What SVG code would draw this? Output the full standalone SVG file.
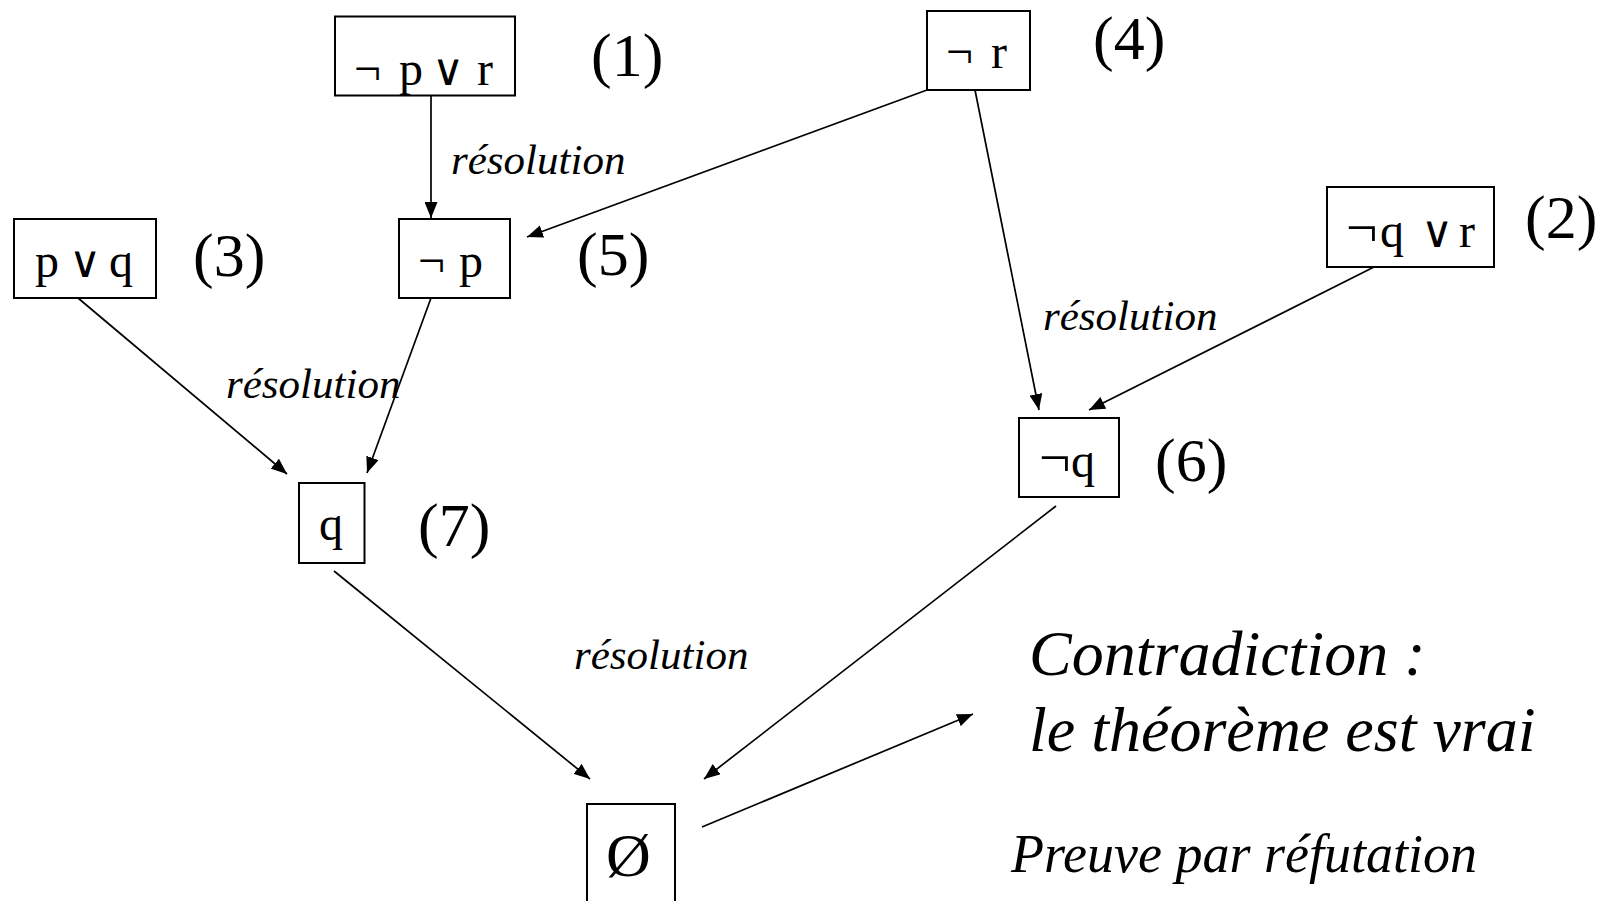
<svg xmlns="http://www.w3.org/2000/svg" width="1610" height="901" viewBox="0 0 1610 901">
<style>
  .box { fill: #fff; stroke: #000; stroke-width: 2; }
  .t { font-family: "Liberation Serif", "DejaVu Serif", serif; font-size: 48px; fill: #000; }
  .num { font-family: "Liberation Serif", "DejaVu Serif", serif; font-size: 62px; fill: #000; }
  .it { font-family: "Liberation Serif", "Times New Roman", serif; font-style: italic; fill: #000; }
  .res { font-size: 43px; }
  .big { font-size: 64px; }
  .pr { font-size: 54px; }
  .or { font-family: "DejaVu Sans", sans-serif; font-weight: 200; font-size: 44px; }
  .neg { font-size: 56px; }
  .edge { stroke: #000; stroke-width: 1.7; fill: none; marker-end: url(#ah); }
</style>
<defs>
  <marker id="ah" markerUnits="userSpaceOnUse" markerWidth="17" markerHeight="13" refX="16" refY="6.5" orient="auto">
    <path d="M0,0 L16,6.5 L0,13 z" fill="#000"/>
  </marker>
</defs>

<g id="edges">
  <line class="edge" x1="431" y1="90" x2="431" y2="218"/>
  <line class="edge" x1="927" y1="90" x2="527" y2="237"/>
  <line class="edge" x1="975" y1="90" x2="1039" y2="410"/>
  <line class="edge" x1="1374" y1="267" x2="1089" y2="410"/>
  <line class="edge" x1="78" y1="298" x2="287" y2="474"/>
  <line class="edge" x1="431" y1="298" x2="367" y2="473"/>
  <line class="edge" x1="334" y1="571" x2="590" y2="779"/>
  <line class="edge" x1="1056" y1="506" x2="704" y2="779"/>
  <line class="edge" x1="702" y1="827" x2="973" y2="714"/>
</g>

<g id="n1">
  <rect class="box" x="335" y="16.5" width="180" height="79"/>
  <text class="t" y="85"><tspan x="354">¬</tspan><tspan x="399">p</tspan><tspan x="432" class="or">∨</tspan><tspan x="477">r</tspan></text>
  <text class="num" x="591" y="76">(1)</text>
</g>

<g id="n4">
  <rect class="box" x="927" y="11" width="103" height="79"/>
  <text class="t" y="68"><tspan x="946">¬</tspan><tspan x="991">r</tspan></text>
  <text class="num" x="1093" y="59">(4)</text>
</g>

<g id="n2">
  <rect class="box" x="1327" y="187" width="167" height="80"/>
  <text class="t" y="247"><tspan x="1346" class="neg">¬</tspan><tspan x="1380">q</tspan><tspan x="1421" class="or">∨</tspan><tspan x="1459">r</tspan></text>
  <text class="num" x="1525" y="238">(2)</text>
</g>

<g id="n3">
  <rect class="box" x="14" y="219" width="142" height="79"/>
  <text class="t" y="277"><tspan x="35">p</tspan><tspan x="69" class="or">∨</tspan><tspan x="109">q</tspan></text>
  <text class="num" x="193" y="276">(3)</text>
</g>

<g id="n5">
  <rect class="box" x="399" y="219" width="111" height="79"/>
  <text class="t" y="277"><tspan x="418">¬</tspan><tspan x="459">p</tspan></text>
  <text class="num" x="577" y="275">(5)</text>
</g>

<g id="n6">
  <rect class="box" x="1019" y="418" width="100" height="79"/>
  <text class="t" y="477"><tspan x="1039" class="neg">¬</tspan><tspan x="1071">q</tspan></text>
  <text class="num" x="1155" y="481">(6)</text>
</g>

<g id="n7">
  <rect class="box" x="299" y="483" width="65.5" height="80"/>
  <text class="t" x="319" y="540">q</text>
  <text class="num" x="418" y="546">(7)</text>
</g>

<g id="n8">
  <rect class="box" x="587" y="804" width="88" height="110"/>
  <text class="t" x="606" y="876" style="font-size:62px">Ø</text>
</g>

<g id="labels">
  <text class="it res" x="451" y="174">résolution</text>
  <text class="it res" x="1043" y="330">résolution</text>
  <text class="it res" x="226" y="398">résolution</text>
  <text class="it res" x="574" y="669">résolution</text>
  <text class="it big" x="1029" y="675">Contradiction :</text>
  <text class="it big" x="1029" y="751">le théorème est vrai</text>
  <text class="it pr" x="1011" y="872">Preuve par réfutation</text>
</g>
</svg>
